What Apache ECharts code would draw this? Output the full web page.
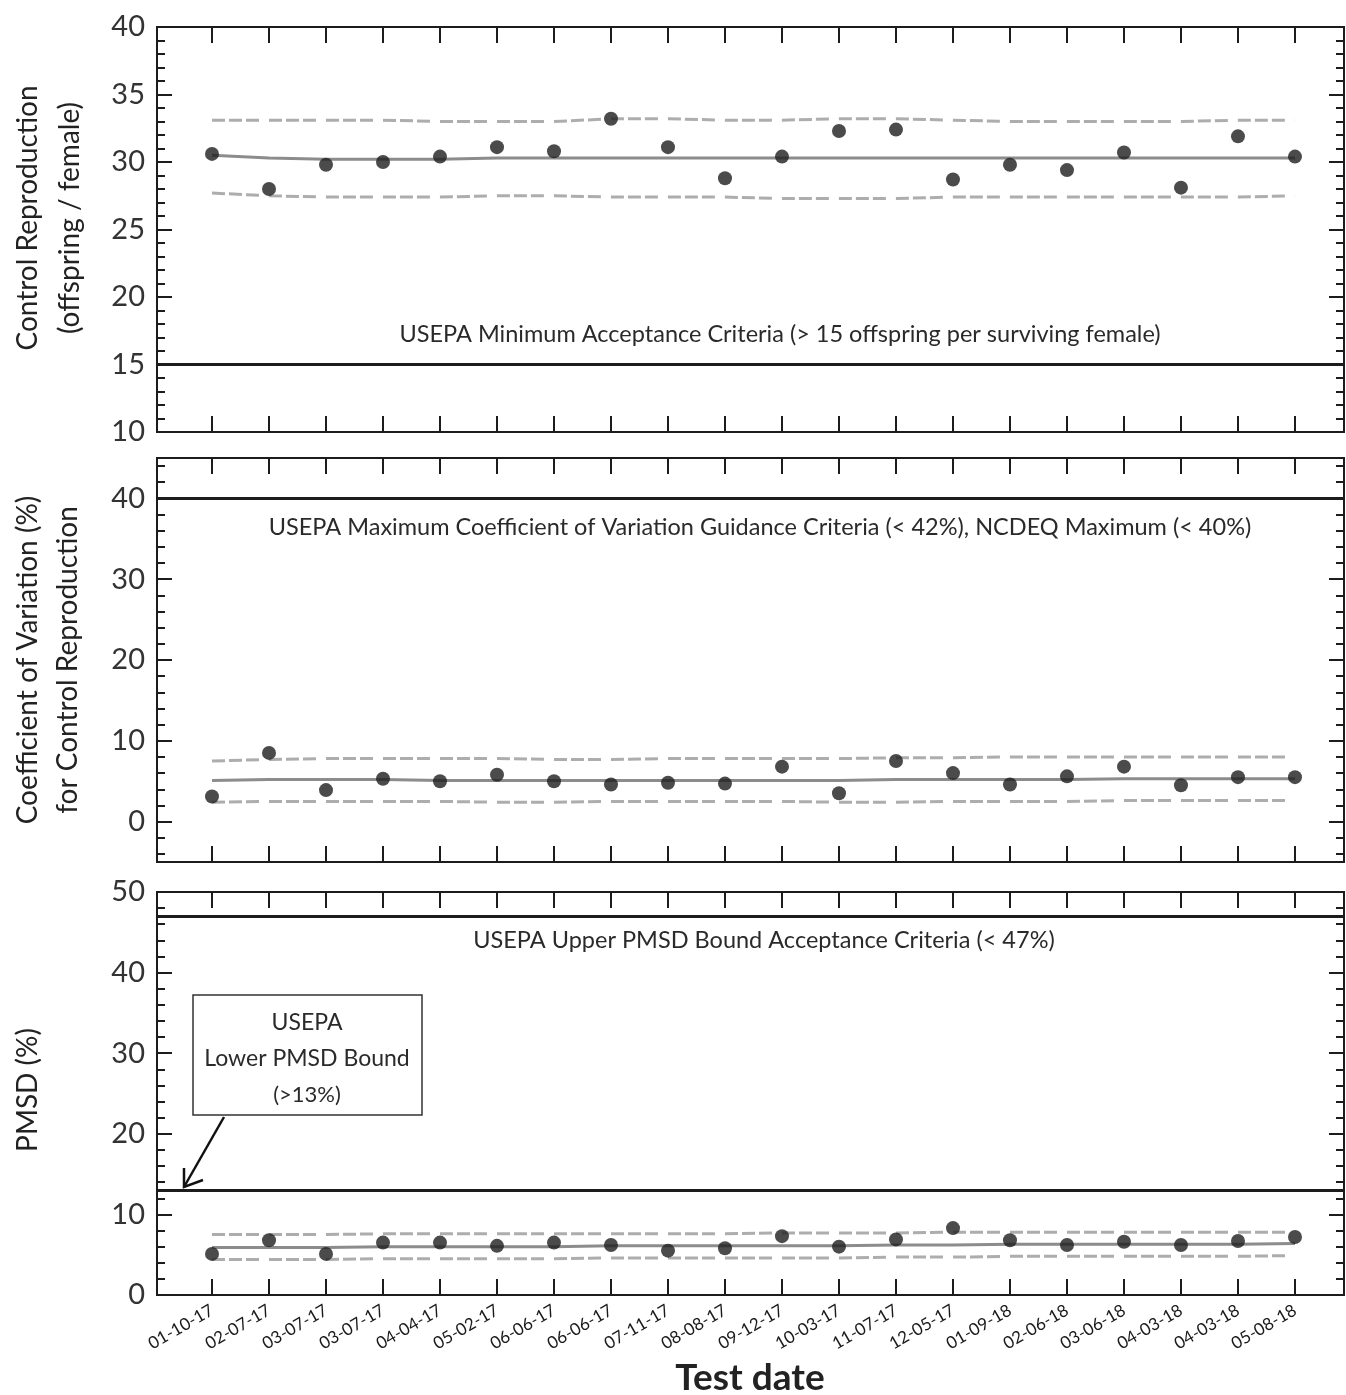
<!DOCTYPE html>
<html>
<head>
<meta charset="utf-8">
<script src="https://cdn.jsdelivr.net/npm/echarts@6/dist/echarts.min.js"></script>
<style>
  html, body { margin: 0; padding: 0; background: #fff; }
  #chart { width: 1346px; height: 1395px; }
</style>
</head>
<body>
<div id="chart"></div>
<script>
const FONT = 'Lato, "Open Sans", sans-serif';

// categories
const testDates = ['01-10-17', '02-07-17', '03-07-17', '03-07-17', '04-04-17', '05-02-17', '06-06-17', '06-06-17', '07-11-17', '08-08-17',
  '09-12-17', '10-03-17', '11-07-17', '12-05-17', '01-09-18', '02-06-18', '03-06-18', '04-03-18', '04-03-18', '05-08-18'];

// control reproduction (offspring / female)
const reproValues = [30.6, 28.0, 29.8, 30.0, 30.4, 31.1, 30.8, 33.2, 31.1, 28.8, 30.4, 32.3, 32.4, 28.7, 29.8, 29.4, 30.7, 28.1, 31.9, 30.4];
const reproMean = [30.5, 30.3, 30.2, 30.2, 30.2, 30.3, 30.3, 30.3, 30.3, 30.3, 30.3, 30.3, 30.3, 30.3, 30.3, 30.3, 30.3, 30.3, 30.3, 30.3];
const reproUpper = [33.1, 33.1, 33.1, 33.1, 33.0, 33.0, 33.0, 33.2, 33.2, 33.1, 33.1, 33.2, 33.2, 33.1, 33.0, 33.0, 33.0, 33.0, 33.1, 33.1];
const reproLower = [27.7, 27.5, 27.4, 27.4, 27.4, 27.5, 27.5, 27.4, 27.4, 27.4, 27.3, 27.3, 27.3, 27.4, 27.4, 27.4, 27.4, 27.4, 27.4, 27.5];

// coefficient of variation (%)
const cvValues = [3.1, 8.5, 3.9, 5.3, 5.0, 5.8, 5.0, 4.6, 4.8, 4.7, 6.8, 3.5, 7.5, 6.0, 4.6, 5.6, 6.8, 4.5, 5.5, 5.5];
const cvMean = [5.1, 5.2, 5.2, 5.2, 5.1, 5.1, 5.1, 5.1, 5.1, 5.1, 5.1, 5.1, 5.2, 5.2, 5.2, 5.2, 5.3, 5.3, 5.3, 5.3];
const cvUpper = [7.5, 7.7, 7.8, 7.8, 7.8, 7.8, 7.7, 7.7, 7.8, 7.8, 7.8, 7.8, 7.9, 7.9, 8.0, 8.0, 8.0, 8.0, 8.0, 8.0];
const cvLower = [2.4, 2.5, 2.5, 2.5, 2.5, 2.4, 2.4, 2.5, 2.5, 2.5, 2.5, 2.4, 2.4, 2.5, 2.5, 2.5, 2.6, 2.6, 2.6, 2.6];

// PMSD (%)
const pmsdValues = [5.1, 6.8, 5.1, 6.5, 6.5, 6.1, 6.5, 6.2, 5.5, 5.8, 7.3, 6.0, 6.9, 8.3, 6.8, 6.2, 6.6, 6.2, 6.7, 7.2];
const pmsdMean = [5.9, 5.9, 5.9, 6.0, 6.0, 6.0, 6.0, 6.1, 6.1, 6.1, 6.1, 6.1, 6.2, 6.2, 6.3, 6.3, 6.3, 6.3, 6.3, 6.4];
const pmsdUpper = [7.5, 7.5, 7.5, 7.6, 7.6, 7.6, 7.6, 7.6, 7.6, 7.6, 7.7, 7.7, 7.7, 7.8, 7.8, 7.8, 7.8, 7.8, 7.8, 7.8];
const pmsdLower = [4.4, 4.4, 4.4, 4.5, 4.5, 4.5, 4.5, 4.6, 4.6, 4.6, 4.6, 4.6, 4.7, 4.7, 4.8, 4.8, 4.8, 4.8, 4.8, 4.9];

// acceptance criteria
const reproMinCriteria = 15;
const cvMaxCriteria = 40;
const pmsdUpperCriteria = 47;
const pmsdLowerCriteria = 13;

// tick labels
const reproTicks = [10, 15, 20, 25, 30, 35, 40];
const cvTicks = [0, 10, 20, 30, 40];
const pmsdTicks = [0, 10, 20, 30, 40, 50];

/** minor tick positions between min and max, skipping majors */
function minorTicks(min, max, step, majors) {
  const out = [];
  for (let v = min; v <= max + 1e-9; v += step) {
    const r = Math.round(v * 100) / 100;
    if (majors.indexOf(r) < 0) out.push(r);
  }
  return out;
}

const black = '#1c1c1c';
const grids = [
  { left: 157, top: 27, right: 2, height: 405 },
  { left: 157, top: 458, right: 2, height: 404 },
  { left: 157, top: 892, right: 2, height: 403 },
];

function xAxesFor(gi, withLabels) {
  const idx = testDates.map((d, i) => i);
  const base = {
    type: 'value', gridIndex: gi, min: -0.965, max: 19.86,
    splitLine: { show: false },
    axisLine: { show: true, onZero: false, lineStyle: { color: black, width: 2 } },
    axisTick: { inside: true, length: 16, customValues: idx, lineStyle: { color: black, width: 2 } },
  };
  return [
    {
      ...base, position: 'bottom',
      axisLabel: withLabels ? {
        customValues: idx, rotate: 30, margin: 14, fontSize: 17, color: '#1a1a1a', fontFamily: FONT,
        formatter: (v) => testDates[Math.round(v)],
      } : { show: false },
    },
    { ...base, position: 'top', axisLabel: { show: false } },
  ];
}

function yAxesFor(gi, min, max, majors, minors) {
  const base = {
    type: 'value', gridIndex: gi, min, max,
    splitLine: { show: false },
    axisLine: { show: true, onZero: false, lineStyle: { color: black, width: 2 } },
  };
  const major = { inside: true, length: 15, customValues: majors, lineStyle: { color: black, width: 2 } };
  const minor = { inside: true, length: 8, customValues: minors, lineStyle: { color: black, width: 2 } };
  return [
    { ...base, position: 'left', axisTick: major, axisLabel: { customValues: majors, margin: 12, fontSize: 29, color: '#333', fontFamily: FONT } },
    { ...base, position: 'left', axisTick: minor, axisLabel: { show: false } },
    { ...base, position: 'right', axisTick: major, axisLabel: { show: false } },
    { ...base, position: 'right', axisTick: minor, axisLabel: { show: false } },
  ];
}

// three dashes per point-to-point segment
const dashPattern = [13, 4, 13, 4, 13, 10];

function panelSeries(gi, values, mean, upper, lower, criteria) {
  const pairs = (arr) => arr.map((v, i) => [i, v]);
  const common = { xAxisIndex: gi * 2, yAxisIndex: gi * 4, symbol: 'none', silent: true, animation: false };
  return [
    { ...common, type: 'line', data: pairs(upper), lineStyle: { color: '#adadad', width: 3, type: dashPattern }, z: 2 },
    { ...common, type: 'line', data: pairs(lower), lineStyle: { color: '#adadad', width: 3, type: dashPattern }, z: 2 },
    { ...common, type: 'line', data: pairs(mean), lineStyle: { color: '#8c8c8c', width: 3 }, z: 3 },
    {
      ...common, type: 'scatter', symbol: 'circle', symbolSize: 14, data: pairs(values),
      itemStyle: { color: '#1e1e1e' }, z: 5,
      markLine: {
        silent: true, symbol: 'none', animation: false,
        label: { show: false },
        lineStyle: { color: black, width: 3, type: 'solid' },
        data: criteria.map((c) => ({ yAxis: c })),
      },
    },
  ];
}

function textItem(x, y, text, size, extra) {
  return {
    type: 'text', x, y, z: 10,
    style: { text, fontSize: size, fontFamily: FONT, fill: '#2a2a2a', align: 'center', verticalAlign: 'middle', ...(extra || {}) },
  };
}
function vText(x, y, text, size) {
  return { ...textItem(x, y, text, size, { fill: '#222' }), rotation: Math.PI / 2 };
}

const chart = echarts.init(document.getElementById('chart'));
chart.setOption({
  backgroundColor: '#ffffff',
  animation: false,
  grid: grids.map((g) => ({ ...g, show: true, borderColor: black, borderWidth: 2, backgroundColor: 'transparent' })),
  xAxis: [...xAxesFor(0, false), ...xAxesFor(1, false), ...xAxesFor(2, true)],
  yAxis: [
    ...yAxesFor(0, 10, 40, reproTicks, minorTicks(10, 40, 1, reproTicks)),
    ...yAxesFor(1, -5, 45, cvTicks, minorTicks(-4, 44, 2, cvTicks)),
    ...yAxesFor(2, 0, 50, pmsdTicks, minorTicks(0, 50, 2, pmsdTicks)),
  ],
  series: [
    ...panelSeries(0, reproValues, reproMean, reproUpper, reproLower, [reproMinCriteria]),
    ...panelSeries(1, cvValues, cvMean, cvUpper, cvLower, [cvMaxCriteria]),
    ...panelSeries(2, pmsdValues, pmsdMean, pmsdUpper, pmsdLower, [pmsdUpperCriteria, pmsdLowerCriteria]),
  ],
  graphic: [
    vText(28, 218, 'Control Reproduction', 28),
    vText(70, 218, '(offspring / female)', 28),
    vText(28, 660, 'Coefficient of Variation (%)', 28),
    vText(68, 660, 'for Control Reproduction', 28),
    vText(28, 1090, 'PMSD (%)', 28),
    textItem(780, 334, 'USEPA Minimum Acceptance Criteria (> 15 offspring per surviving female)', 23.5),
    textItem(760, 527, 'USEPA Maximum Coefficient of Variation Guidance Criteria (< 42%), NCDEQ Maximum (< 40%)', 23.5),
    textItem(764, 940, 'USEPA Upper PMSD Bound Acceptance Criteria (< 47%)', 23.5),
    {
      type: 'rect', z: 9,
      shape: { x: 193, y: 995, width: 229, height: 120 },
      style: { fill: '#fff', stroke: '#333', lineWidth: 1.5 },
    },
    textItem(307, 1023, 'USEPA', 23),
    textItem(307, 1059, 'Lower PMSD Bound', 23),
    textItem(307, 1095, '(>13%)', 22),
    {
      type: 'polyline', z: 9,
      shape: { points: [[224, 1117], [184, 1187]] },
      style: { stroke: '#111', lineWidth: 2.5, fill: null },
    },
    {
      type: 'polyline', z: 9,
      shape: { points: [[184, 1168], [184, 1187], [203, 1180]] },
      style: { stroke: '#111', lineWidth: 2.5, fill: null },
    },
    textItem(750, 1378, 'Test date', 37, { fontWeight: 'bold', fill: '#222' }),
  ],
});
</script>
</body>
</html>
